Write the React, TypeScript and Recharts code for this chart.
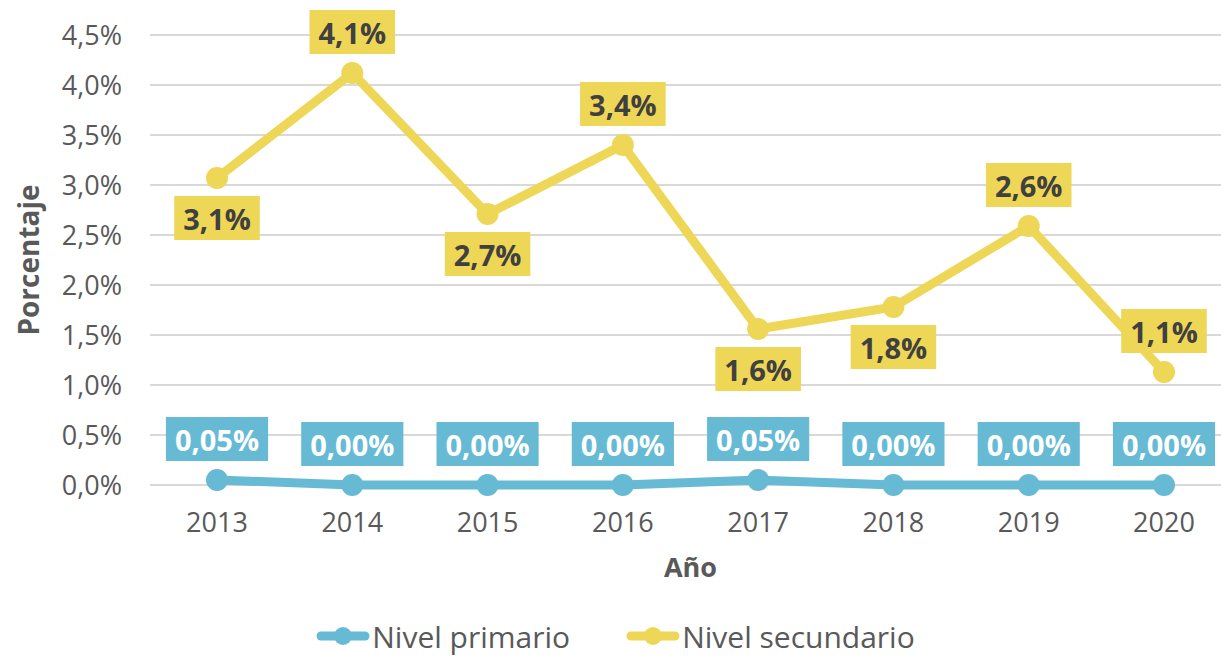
import React from "react";
import {
  CartesianGrid,
  LabelList,
  Legend,
  Line,
  LineChart,
  XAxis,
  YAxis,
} from "recharts";

const years = ["2013", "2014", "2015", "2016", "2017", "2018", "2019", "2020"];
const primario = [0.05, 0.0, 0.0, 0.0, 0.05, 0.0, 0.0, 0.0];
const secundario = [3.07, 4.12, 2.71, 3.4, 1.56, 1.78, 2.59, 1.13];
const yTicks = [0, 0.5, 1, 1.5, 2, 2.5, 3, 3.5, 4, 4.5];

const data = years.map((year, i) => ({
  year,
  primario: primario[i],
  secundario: secundario[i],
}));

const BLUE = "#66BAD4";
const YELLOW = "#EED657";
const GREY = "#595959";
const FONT = "'Open Sans', sans-serif";

// which secondary labels sit under their point
const secBelow = new Set([0, 2, 4, 5]);

let ctx: CanvasRenderingContext2D | null = null;
function textWidth(s: string, font: string) {
  if (!ctx) ctx = document.createElement("canvas").getContext("2d");
  if (!ctx) return s.length * 16;
  ctx.font = font;
  return ctx.measureText(s).width;
}

const fmt = (v: number, d: number) => v.toFixed(d).replace(".", ",") + "%";

function boxLabel(
  props: any,
  digits: number,
  bg: string,
  color: string,
  below: (i: number) => boolean
) {
  const { x, y, value, index } = props;
  const text = fmt(Number(value), digits);
  const font = `700 29px ${FONT}`;
  const w = textWidth(text, font) + 18;
  const h = 44;
  const cy = below(index) ? y + 40 : y - 41;
  return (
    <g key={`lbl-${index}`}>
      <rect x={x - w / 2} y={cy - h / 2} width={w} height={h} fill={bg} />
      <text
        x={x}
        y={cy}
        textAnchor="middle"
        dominantBaseline="central"
        fill={color}
        style={{ font }}
      >
        {text}
      </text>
    </g>
  );
}

function renderLegend(props: any) {
  const items = props.payload || [];
  return (
    <div
      style={{
        display: "flex",
        justifyContent: "center",
        gap: 56,
        height: 40,
        alignItems: "center",
        fontFamily: FONT,
        fontSize: 30,
        color: GREY,
      }}
    >
      {items.map((it: any) => (
        <span key={it.value} style={{ display: "flex", alignItems: "center" }}>
          <svg width={54} height={24}>
            <line
              x1={5}
              y1={12}
              x2={49}
              y2={12}
              stroke={it.color}
              strokeWidth={9}
              strokeLinecap="round"
            />
            <circle cx={27} cy={12} r={9} fill={it.color} />
          </svg>
          <span style={{ marginLeft: 2 }}>{it.value}</span>
        </span>
      ))}
    </div>
  );
}

export default function App() {
  return (
    <div
      style={{
        position: "absolute",
        left: 0,
        top: 0,
        width: 1221,
        height: 656,
        overflow: "hidden",
        background: "#fff",
      }}
    >
      <LineChart
        width={1236}
        height={656}
        data={data}
        margin={{ top: 35, right: 5, bottom: 0, left: 0 }}
      >
        <CartesianGrid vertical={false} stroke="#D9D9D9" strokeWidth={2} />
        <XAxis
          dataKey="year"
          axisLine={false}
          tickLine={false}
          tickSize={0}
          tickMargin={28}
          height={131}
          padding={{ left: 67, right: 67 }}
          tick={{ fill: GREY, fontSize: 27, fontFamily: FONT }}
          label={(p: any) => {
            const vb = p.viewBox;
            return (
              <text
                x={vb.x + vb.width / 2}
                y={vb.y + 81}
                textAnchor="middle"
                dominantBaseline="central"
                fill={GREY}
                style={{ font: `700 27px ${FONT}` }}
              >
                Año
              </text>
            );
          }}
        />
        <YAxis
          width={150}
          domain={[0, 4.5]}
          ticks={yTicks}
          axisLine={false}
          tickLine={false}
          tickSize={0}
          tickMargin={28}
          tickFormatter={(v: number) => fmt(v, 1)}
          tick={{ fill: GREY, fontSize: 27, fontFamily: FONT }}
          label={(p: any) => {
            const vb = p.viewBox;
            const cy = vb.y + vb.height / 2;
            return (
              <text
                x={28}
                y={cy}
                textAnchor="middle"
                dominantBaseline="central"
                transform={`rotate(-90 28 ${cy})`}
                fill={GREY}
                style={{ font: `700 28px ${FONT}` }}
              >
                Porcentaje
              </text>
            );
          }}
        />
        <Legend verticalAlign="bottom" content={renderLegend} />
        <Line
          name="Nivel primario"
          dataKey="primario"
          stroke={BLUE}
          strokeWidth={9}
          dot={{ r: 11, fill: BLUE, stroke: "none" }}
          activeDot={false}
          isAnimationActive={false}
        >
          <LabelList
            dataKey="primario"
            content={(p: any) => boxLabel(p, 2, BLUE, "#FFFFFF", () => false)}
          />
        </Line>
        <Line
          name="Nivel secundario"
          dataKey="secundario"
          stroke={YELLOW}
          strokeWidth={9}
          dot={{ r: 11, fill: YELLOW, stroke: "none" }}
          activeDot={false}
          isAnimationActive={false}
        >
          <LabelList
            dataKey="secundario"
            content={(p: any) =>
              boxLabel(p, 1, YELLOW, "#404040", (i) => secBelow.has(i))
            }
          />
        </Line>
      </LineChart>
    </div>
  );
}
